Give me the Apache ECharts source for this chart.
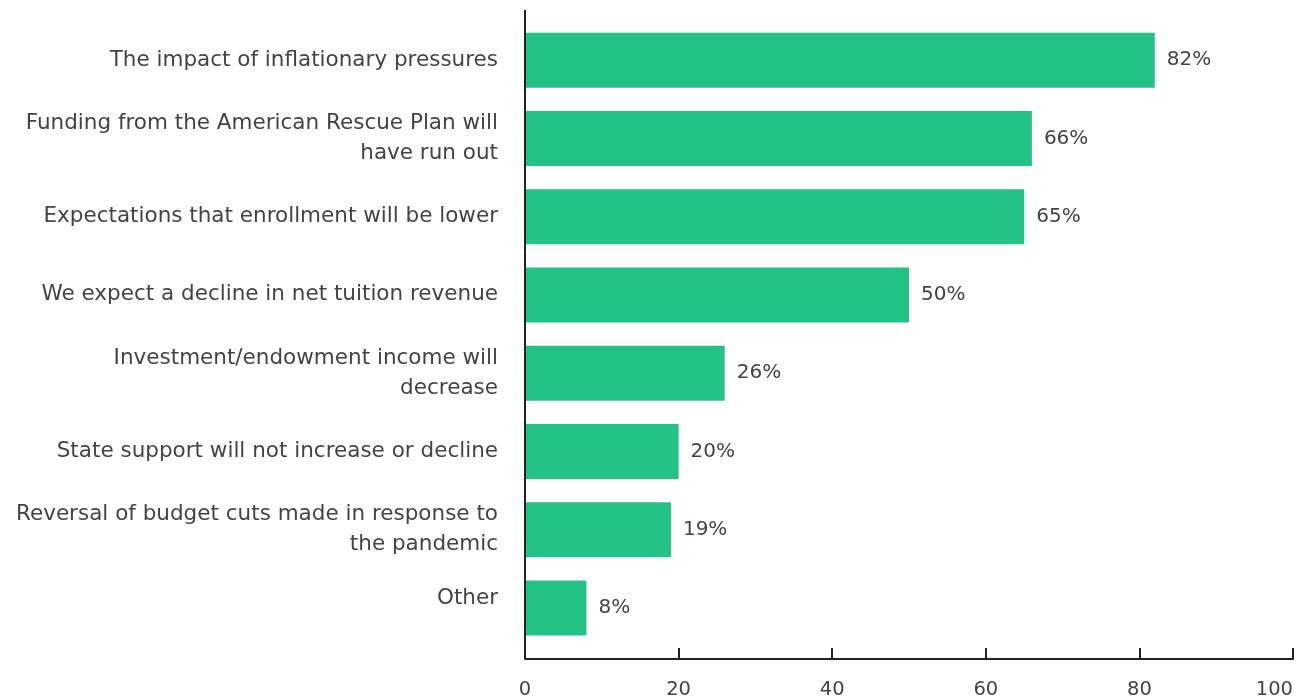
<!DOCTYPE html>
<html>
<head>
<meta charset="utf-8">
<script src="https://cdn.jsdelivr.net/npm/echarts@6/dist/echarts.min.js"></script>
<style>
  html, body { margin: 0; padding: 0; background: #fff; }
  #chart { width: 1315px; height: 700px; }
</style>
</head>
<body>
<div id="chart"></div>
<script>
// reasons (top to bottom)
const categories = [
  'The impact of inflationary pressures',
  'Funding from the American Rescue Plan will\nhave run out',
  'Expectations that enrollment will be lower',
  'We expect a decline in net tuition revenue',
  'Investment/endowment income will\ndecrease',
  'State support will not increase or decline',
  'Reversal of budget cuts made in response to\nthe pandemic',
  'Other'
];
const shares = [82, 66, 65, 50, 26, 20, 19, 8];
const xTicks = [0, 20, 40, 60, 80, 100];

const font = '"DejaVu Sans", Roboto, sans-serif';
const gridLeft = 525, gridRight = 22, gridTop = 21, gridBottom = 53;

const chart = echarts.init(document.getElementById('chart'));
chart.setOption({
  animation: false,
  grid: { left: gridLeft, right: gridRight, top: gridTop, bottom: gridBottom, containLabel: false },
  xAxis: {
    type: 'value',
    min: xTicks[0],
    max: xTicks[xTicks.length - 1],
    interval: 20,
    offset: 12,
    axisLine: { show: true, lineStyle: { color: '#222', width: 2 } },
    axisTick: { show: true, inside: true, length: 11, lineStyle: { color: '#222', width: 2 } },
    splitLine: { show: false },
    axisLabel: { color: '#444', fontSize: 19.5, fontFamily: font, margin: 21, alignMaxLabel: 'right' }
  },
  yAxis: {
    type: 'category',
    inverse: true,
    data: categories,
    axisLine: { show: false },
    axisTick: { show: false },
    axisLabel: {
      color: '#444', fontSize: 21.5, fontFamily: font, margin: 27, lineHeight: 30, align: 'right',
      // "Other" sits a bit above its bar in the original
      formatter: v => v === 'Other' ? '{up|' + v + '}' : v,
      rich: {
        up: { color: '#444', fontSize: 21.5, fontFamily: font, lineHeight: 30, padding: [0, 0, 18, 0] }
      }
    }
  },
  series: [{
    type: 'bar',
    data: shares,
    barWidth: 55,
    itemStyle: { color: '#22c384' },
    label: {
      show: true,
      position: 'right',
      distance: 12,
      color: '#444',
      fontSize: 20,
      fontFamily: font,
      formatter: p => p.value + '%'
    }
  }],
  graphic: [{
    type: 'line',
    shape: { x1: gridLeft, y1: 10, x2: gridLeft, y2: 700 - gridBottom + 12 },
    style: { stroke: '#222', lineWidth: 2 },
    z: 10
  }]
});
</script>
</body>
</html>
